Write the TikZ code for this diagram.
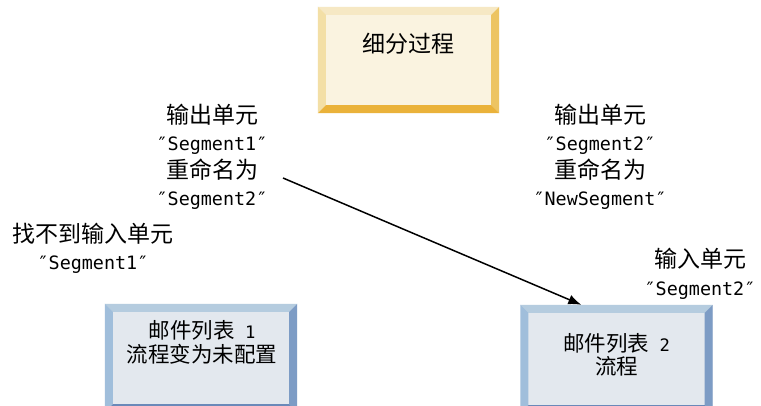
\documentclass[tikz,border=0pt]{standalone}
\usepackage{fontspec}
\setmainfont{Noto Sans CJK SC}[Ligatures=ResetAll]
\newfontfamily\lat{DejaVu Sans Mono}[Ligatures=ResetAll,Scale=0.8]
\usetikzlibrary{calc,arrows.meta}
\definecolor{yface}{HTML}{FAF3E0}
\definecolor{ytop}{HTML}{F6E8C4}
\definecolor{yleft}{HTML}{F3DFA6}
\definecolor{yright}{HTML}{EDC462}
\definecolor{ybot}{HTML}{EAB23A}
\definecolor{bface}{HTML}{E3E8EE}
\definecolor{btop}{HTML}{B5CCDF}
\definecolor{bleft}{HTML}{A0BEDB}
\definecolor{bright}{HTML}{7D9CC5}
\definecolor{bbot}{HTML}{6A89B9}
\newcommand\bevelbox[5]{%
  \fill[#2] (#1.north west) -- (#1.north east) -- ($(#1.north east)+(-8,8)$) -- ($(#1.north west)+(8,8)$) -- cycle;
  \fill[#3] (#1.north west) -- ($(#1.north west)+(8,8)$) -- ($(#1.south west)+(8,-8)$) -- (#1.south west) -- cycle;
  \fill[#4] (#1.north east) -- ($(#1.north east)+(-8,8)$) -- ($(#1.south east)+(-8,-8)$) -- (#1.south east) -- cycle;
  \fill[#5] (#1.south west) -- ($(#1.south west)+(8,-8)$) -- ($(#1.south east)+(-8,-8)$) -- (#1.south east) -- cycle;
}
\newcommand\q[1]{{\lat ″#1″}}
\begin{document}
\begin{tikzpicture}[x=1pt,y=-1pt,
  lbl/.style={align=center,font=\fontsize{23}{27.5}\selectfont,inner sep=0pt},
  boxtxt/.style={align=center,font=\fontsize{21.5}{23.5}\selectfont,inner sep=0pt},
  ybox/.style={fill=yface,minimum width=181pt,minimum height=106pt,inner sep=0pt},
  bbox/.style={fill=bface,minimum width=192pt,minimum height=108pt,inner sep=0pt},
  conn/.style={line width=1.5pt,-{Latex[length=13pt,width=10pt]}}]
\clip (0,0) rectangle (761,406);
\fill[white] (0,0) rectangle (761,406);
% boxes
\node[ybox] (top) at (408.5,60) {};
\bevelbox{top}{ytop}{yleft}{yright}{ybot}
\node[boxtxt,font=\fontsize{23}{27.5}\selectfont] (toptxt) at (408.5,44) {细分过程};
\node[bbox] (b1) at (201,358) {};
\bevelbox{b1}{btop}{bleft}{bright}{bbot}
\node[boxtxt] (b1txt) at (202,342.5) {邮件列表{\lat\ 1}\\流程变为未配置};
\node[bbox] (b2) at (616.5,359) {};
\bevelbox{b2}{btop}{bleft}{bright}{bbot}
\node[boxtxt] (b2txt) at (616.5,355) {邮件列表{\lat\ 2}\\流程};
% labels
\node[lbl] (l1) at (212,157) {输出单元\\\q{Segment1}\\重命名为\\\q{Segment2}};
\node[lbl] (l2) at (93,248.5) {找不到输入单元\\\q{Segment1}};
\node[lbl] (r1) at (600,157) {输出单元\\\q{Segment2}\\重命名为\\\q{NewSegment}};
\node[lbl] (r2) at (700,274) {输入单元\\\q{Segment2}};
% connector
\coordinate (a0) at (283,178);
\draw[conn] (a0) -- ([xshift=61pt]b2.north west);
\end{tikzpicture}
\end{document}
